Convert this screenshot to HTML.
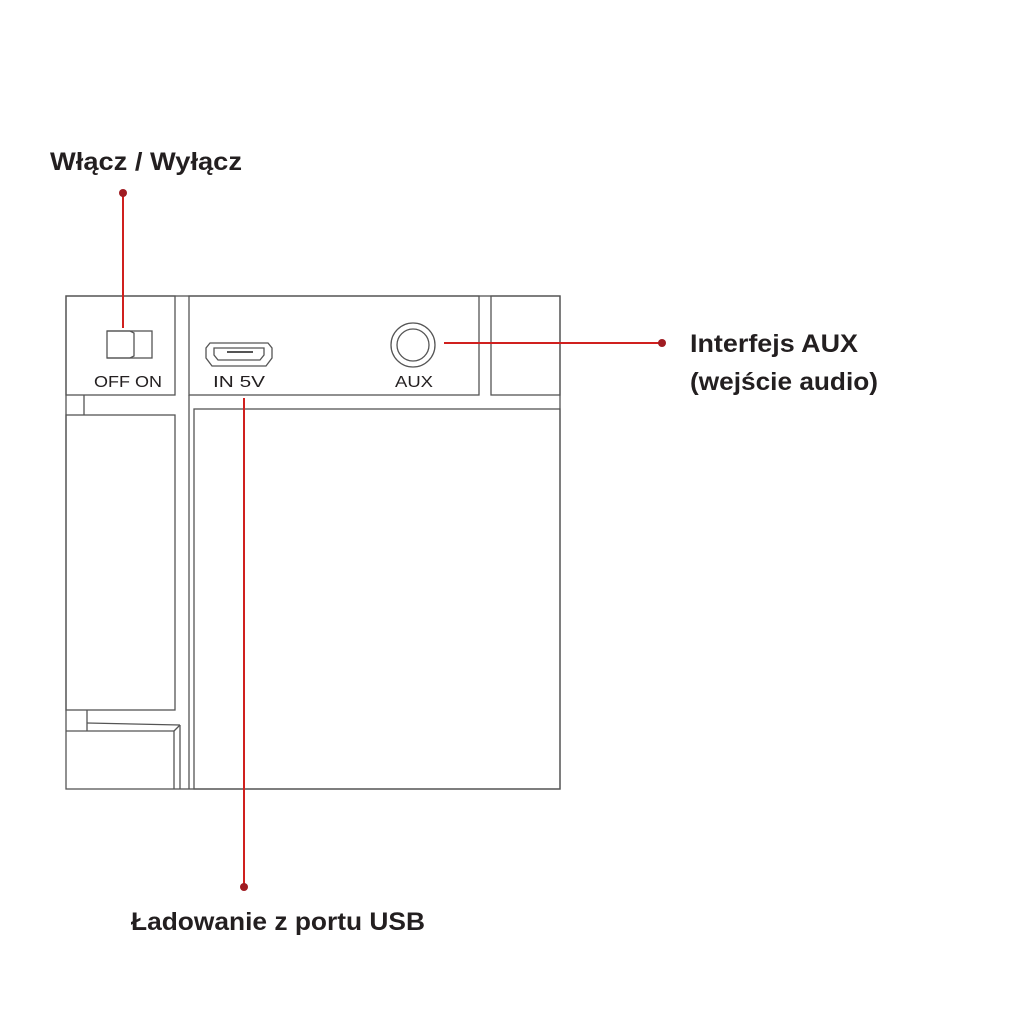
<!DOCTYPE html>
<html><head><meta charset="utf-8"><style>
body{margin:0;background:#fff;}
svg{display:block}
.t{font-family:"Liberation Sans",sans-serif;font-weight:bold;fill:#231f20;font-size:25px}
.s{font-family:"Liberation Sans",sans-serif;fill:#231f20;font-size:16px}
</style></head><body>
<svg width="1024" height="1024" viewBox="0 0 1024 1024" xmlns="http://www.w3.org/2000/svg">
<g fill="none" stroke="#555" stroke-width="1.3">
<rect x="66" y="296" width="494" height="493"/>
<rect x="66" y="296" width="109" height="99"/>
<rect x="189" y="296" width="290" height="99"/>
<rect x="491" y="296" width="69" height="99"/>
<line x1="84" y1="395" x2="84" y2="415"/>
<rect x="66" y="415" width="109" height="295"/>
<line x1="189" y1="395" x2="189" y2="789"/>
<rect x="194" y="409" width="366" height="380"/>
<line x1="87" y1="710" x2="87" y2="731"/>
<line x1="87" y1="723" x2="180" y2="725"/>
<line x1="66" y1="731" x2="174" y2="731"/>
<line x1="174" y1="731" x2="174" y2="789"/>
<line x1="180" y1="725" x2="180" y2="789"/>
<line x1="174" y1="731" x2="180" y2="725"/>
<rect x="107" y="331" width="45" height="27"/>
<path d="M107 331 H130 L134 333 V356 L130 358 H107"/>
<path d="M210 343 H268 L272 348 V358 L266 366 H212 L206 358 V348 Z"/>
<path d="M214 348 H264 V355 L260 360 H218 L214 355 Z"/>
<circle cx="413" cy="345" r="22"/>
<circle cx="413" cy="345" r="16"/>
</g>
<g fill="#555"><rect x="227" y="351" width="26" height="2"/></g>
<text class="s" x="94" y="387" textLength="68" lengthAdjust="spacingAndGlyphs">OFF ON</text>
<text class="s" x="213" y="387" textLength="52" lengthAdjust="spacingAndGlyphs">IN 5V</text>
<text class="s" x="395" y="387" textLength="38" lengthAdjust="spacingAndGlyphs">AUX</text>
<g stroke="#d0201e" stroke-width="2">
<line x1="123" y1="193" x2="123" y2="328"/>
<line x1="244" y1="398" x2="244" y2="887"/>
<line x1="444" y1="343" x2="662" y2="343"/>
</g>
<g fill="#a01c22">
<circle cx="123" cy="193" r="4"/>
<circle cx="244" cy="887" r="4"/>
<circle cx="662" cy="343" r="4"/>
</g>
<text class="t" x="50" y="170" textLength="192" lengthAdjust="spacingAndGlyphs">Włącz / Wyłącz</text>
<text class="t" x="690" y="352" textLength="168" lengthAdjust="spacingAndGlyphs">Interfejs AUX</text>
<text class="t" x="690" y="390" textLength="188" lengthAdjust="spacingAndGlyphs">(wejście audio)</text>
<text class="t" x="131" y="930" textLength="294" lengthAdjust="spacingAndGlyphs">Ładowanie z portu USB</text>
</svg>
</body></html>
